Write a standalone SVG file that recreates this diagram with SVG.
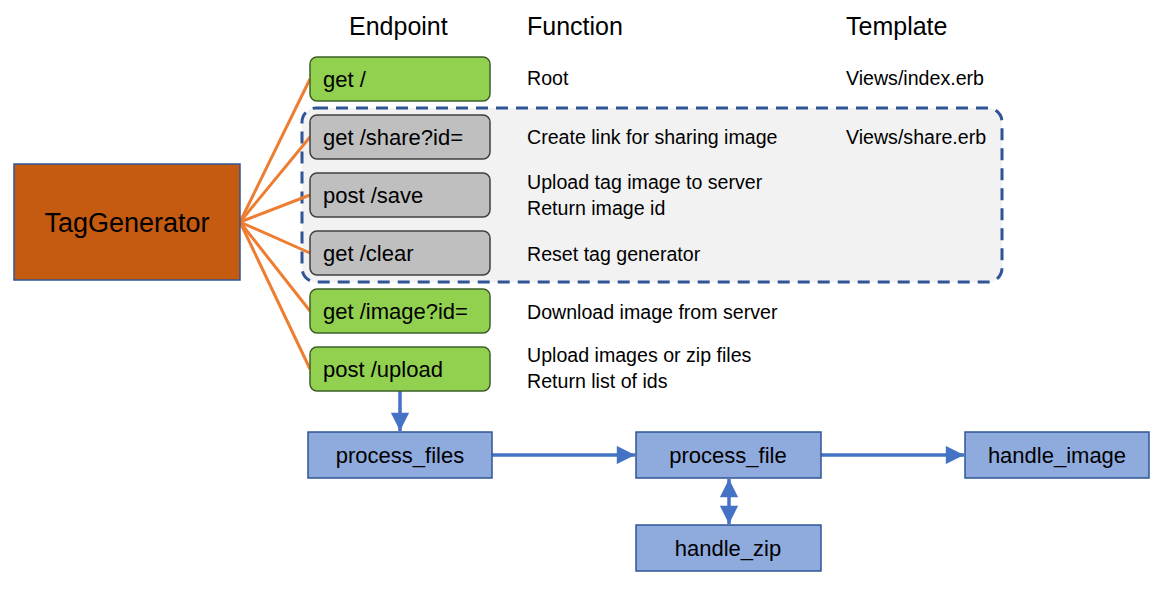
<svg xmlns="http://www.w3.org/2000/svg" width="1166" height="589" viewBox="0 0 1166 589">
<defs>
<style>
text{font-family:"Liberation Sans",Arial,sans-serif;fill:#000}
.hdr{font-size:25px}
.ep{font-size:22px}
.fn{font-size:19.6px}
.green{fill:#92D050;stroke:#3F5F2A;stroke-width:1.5}
.gray{fill:#BFBFBF;stroke:#404040;stroke-width:1.5}
.blue{fill:#8FAADC;stroke:#2F5597;stroke-width:1.5}
.orange{stroke:#ED7D31;stroke-width:3;fill:none}
.arr{stroke:#4472C4;stroke-width:3.5;fill:none}
.fnc{font-size:22px;text-anchor:middle}
</style>
<marker id="ah" viewBox="0 0 10 10" refX="10" refY="5" markerWidth="5.4" markerHeight="5.2" markerUnits="strokeWidth" orient="auto-start-reverse">
<path d="M0,0 L10,5 L0,10 z" fill="#4472C4"/>
</marker>
</defs>
<rect width="1166" height="589" fill="#fff"/>
<g id="headers">
<text class="hdr" x="349" y="35">Endpoint</text>
<text class="hdr" x="527" y="35">Function</text>
<text class="hdr" x="846" y="35">Template</text>
</g>
<g id="group-box">
<rect x="302" y="108" width="700" height="174" rx="14" fill="#F2F2F2" stroke="#2F5597" stroke-width="3" stroke-dasharray="12 8"/>
</g>
<g id="connectors">
<line class="orange" x1="240" y1="222" x2="310" y2="79"/>
<line class="orange" x1="240" y1="222" x2="310" y2="137"/>
<line class="orange" x1="240" y1="222" x2="310" y2="195"/>
<line class="orange" x1="240" y1="222" x2="310" y2="253"/>
<line class="orange" x1="240" y1="222" x2="310" y2="311"/>
<line class="orange" x1="240" y1="222" x2="310" y2="369"/>
<line class="arr" x1="400" y1="391" x2="400" y2="431" marker-end="url(#ah)"/>
<line class="arr" x1="492" y1="455" x2="635" y2="455" marker-end="url(#ah)"/>
<line class="arr" x1="821" y1="455" x2="964" y2="455" marker-end="url(#ah)"/>
<line class="arr" x1="729" y1="479" x2="729" y2="524" marker-start="url(#ah)" marker-end="url(#ah)"/>
</g>
<g id="TagGenerator">
<rect x="14" y="164" width="226" height="116" fill="#C55A11" stroke="#2F5597" stroke-width="1.5"/>
<text x="127" y="232" font-size="27" text-anchor="middle">TagGenerator</text>
</g>
<g id="ep-root">
<rect class="green" x="310" y="57" width="180" height="44" rx="7"/>
<text class="ep" x="323" y="87">get /</text>
</g>
<g id="ep-share">
<rect class="gray" x="310" y="115" width="180" height="44" rx="7"/>
<text class="ep" x="323" y="145">get /share?id=</text>
</g>
<g id="ep-save">
<rect class="gray" x="310" y="173" width="180" height="44" rx="7"/>
<text class="ep" x="323" y="203">post /save</text>
</g>
<g id="ep-clear">
<rect class="gray" x="310" y="231" width="180" height="44" rx="7"/>
<text class="ep" x="323" y="261">get /clear</text>
</g>
<g id="ep-image">
<rect class="green" x="310" y="289" width="180" height="44" rx="7"/>
<text class="ep" x="323" y="319">get /image?id=</text>
</g>
<g id="ep-upload">
<rect class="green" x="310" y="347" width="180" height="44" rx="7"/>
<text class="ep" x="323" y="377">post /upload</text>
</g>
<g id="functions">
<text class="fn" x="527" y="85">Root</text>
<text class="fn" x="527" y="144">Create link for sharing image</text>
<text class="fn" x="527" y="189">Upload tag image to server</text>
<text class="fn" x="527" y="215">Return image id</text>
<text class="fn" x="527" y="261">Reset tag generator</text>
<text class="fn" x="527" y="319">Download image from server</text>
<text class="fn" x="527" y="362">Upload images or zip files</text>
<text class="fn" x="527" y="388">Return list of ids</text>
</g>
<g id="templates">
<text class="fn" x="846" y="85">Views/index.erb</text>
<text class="fn" x="846" y="144">Views/share.erb</text>
</g>
<g id="process_files">
<rect class="blue" x="308" y="432" width="184" height="46"/>
<text class="fnc" x="400" y="463">process_files</text>
</g>
<g id="process_file">
<rect class="blue" x="636" y="432" width="185" height="46"/>
<text class="fnc" x="728" y="463">process_file</text>
</g>
<g id="handle_image">
<rect class="blue" x="965" y="432" width="184" height="46"/>
<text class="fnc" x="1057" y="463">handle_image</text>
</g>
<g id="handle_zip">
<rect class="blue" x="636" y="525" width="185" height="46"/>
<text class="fnc" x="728" y="556">handle_zip</text>
</g>
</svg>
